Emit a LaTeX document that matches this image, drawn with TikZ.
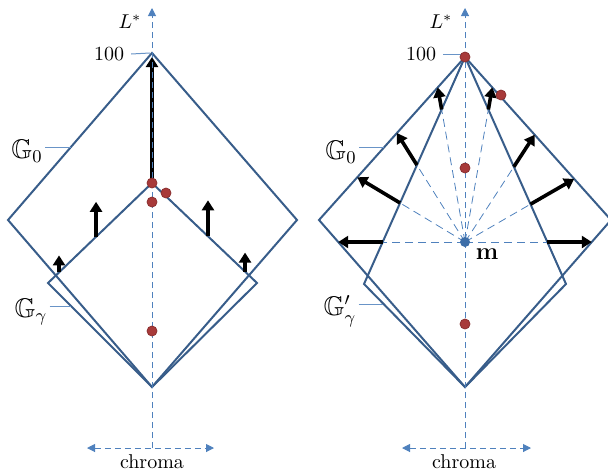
\documentclass[tikz,border=0pt]{standalone}
\usepackage{amsmath}
\usepackage{amssymb}
\usepackage{xcolor}
\usetikzlibrary{calc,positioning,arrows.meta,intersections}

\definecolor{gamutblue}{HTML}{385D8A}
\definecolor{axisblue}{HTML}{4F81BD}
\definecolor{dotred}{HTML}{A83A3A}
\definecolor{dotredline}{HTML}{8B3030}
\definecolor{dotblue}{HTML}{3D6EA8}

\begin{document}
\begin{tikzpicture}[x=0.5pt, y=-0.5pt,
  gamut/.style={draw=gamutblue, line width=1pt, line join=miter},
  axis/.style={draw=axisblue, line width=0.5pt, dash pattern=on 3pt off 2pt},
  ray/.style={draw=axisblue, line width=0.4pt, dash pattern=on 4pt off 2.5pt},
  leader/.style={draw=axisblue!85!white, line width=0.5pt},
  gvec/.style={draw=black, line width=1.8pt, -{Triangle[length=5pt,width=6pt]}},
  reddot/.style={circle, fill=dotred, draw=dotredline, line width=0.4pt, inner sep=0pt, minimum size=5pt},
  bluedot/.style={circle, fill=dotblue, inner sep=0pt, minimum size=5pt},
  glabel/.style={font=\fontsize{13.5}{15}\selectfont, inner sep=1pt},
  >={Triangle[length=4pt,width=4pt]}]
  \useasboundingbox (0,0) rectangle (608,471);

  % left: G_0 and G_gamma
  \coordinate (lT) at (152,53);
  \coordinate (lL) at (8,220);
  \coordinate (lR) at (297,220);
  \coordinate (lB) at (152,387);
  \coordinate (lTg) at (152,183);
  \coordinate (lLg) at (48,283);
  \coordinate (lRg) at (257,283);
  \draw[gamut] (lT) -- (lL) -- (lB) -- (lR) -- cycle;
  \draw[gamut] (lTg) -- (lLg) -- (lB) -- (lRg) -- cycle;

  \path (lTg) -- (lLg) coordinate[pos=0.894] (la1) coordinate[pos=0.538] (la2);
  \path (lTg) -- (lRg) coordinate[pos=0.533] (la3) coordinate[pos=0.886] (la4);
  \draw[gvec] (la1) -- ++(0,-17);
  \draw[gvec] (la2) -- ++(0,-35);
  \draw[gvec] (la3) -- ++(0,-36);
  \draw[gvec] (la4) -- ++(0,-19);
  \draw[gvec] (lTg) -- ($(lT)+(0,4)$);

  \coordinate (laxb) at (152,448);
  \coordinate (laxt) at (152,8);
  \draw[axis,->] (laxb) -- (laxt);
  \coordinate (lchl) at (87,448);
  \coordinate (lchr) at (214,448);
  \draw[axis,<->] (lchl) -- (lchr);

  \node (lLstar) at (130,22) {$L^*$};
  \node (lhundred) at (109,54) {100};
  \draw[leader] (lhundred.east) -- ($(lT)+(-2,0)$);
  \node (lchroma) at (152,462) {chroma};
  \node[glabel] (lgzero) at (27,151) {$\mathbb{G}_0$};
  \coordinate (lgzeroe) at (71,147);
  \draw[leader] (lgzeroe -| lgzero.east) -- (lgzeroe);
  \node[glabel] (lggamma) at (31,312) {$\mathbb{G}_\gamma$};
  \coordinate (lggammae) at (71,306);
  \draw[leader] (lggammae -| lggamma.east) -- (lggammae);

  \node[reddot] (ld1) at (lTg) {};
  \node[reddot] (ld2) at (166,193) {};
  \node[reddot] (ld3) at (152,202) {};
  \node[reddot] (ld4) at (152,331) {};

  % right: G_0 and G'_gamma with rays from m
  \coordinate (rT) at (465,57);
  \coordinate (rL) at (319,220);
  \coordinate (rR) at (611,220);
  \coordinate (rB) at (465,387);
  \coordinate (rLg) at (364,284);
  \coordinate (rRg) at (566,284);
  \coordinate (m) at (465,242);
  \draw[gamut, name path=rgzero] (rT) -- (rL) -- (rB) -- (rR) -- cycle;
  \draw[gamut, name path=rgg] (rT) -- (rLg) -- (rB) -- (rRg) -- cycle;

  \foreach \a in {0,30,57,80,100,122,149,180} {
    \path[name path=rayline] (m) -- ++(-\a:300);
    \path[name intersections={of=rayline and rgg, by=p}];
    \path[name intersections={of=rayline and rgzero, by=q}];
    \draw[ray] (m) -- (p);
    \draw[gvec] (p) -- (q);
  }

  \coordinate (raxb) at (465,448);
  \coordinate (raxt) at (465,8);
  \draw[axis,->] (raxb) -- (raxt);
  \coordinate (rchl) at (402,448);
  \coordinate (rchr) at (531,448);
  \draw[axis,<->] (rchl) -- (rchr);

  \node (rLstar) at (441,22) {$L^*$};
  \node (rhundred) at (421,54) {100};
  \draw[leader] (rhundred.east) -- ($(rT)+(-4,-3)$);
  \node (rchroma) at (464,462) {chroma};
  \node[glabel] (rgzerol) at (341,152) {$\mathbb{G}_0$};
  \coordinate (rgzeroe) at (384,147);
  \draw[leader] (rgzeroe -| rgzerol.east) -- (rgzeroe);
  \node[glabel] (rggammal) at (340,311) {$\mathbb{G}'_\gamma$};
  \coordinate (rggammae) at (383,304);
  \draw[leader] (rggammae -| rggammal.east) -- (rggammae);

  \node[reddot] (rd1) at (rT) {};
  \node[reddot] (rd2) at (501,95) {};
  \node[reddot] (rd3) at (465,168) {};
  \node[reddot] (rd4) at (465,324) {};
  \node[bluedot] (md) at (m) {};
  \node[font=\fontsize{13}{15}\selectfont] (mlabel) at (487,254) {$\mathbf{m}$};
\end{tikzpicture}
\end{document}
